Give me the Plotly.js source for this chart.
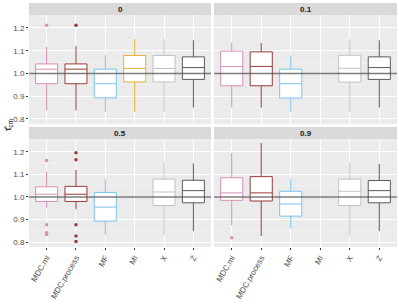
<!DOCTYPE html>
<html><head><meta charset="utf-8">
<script src="https://cdn.plot.ly/plotly-3.0.1.min.js"></script>
<style>html,body{margin:0;padding:0;background:#fff}#c{width:399px;height:308px}</style>
</head><body><div id="c"></div>
<script>
const methods = ['MDC.mi','MDC.process','MF','MI','X','Z'];
const panels = ['0','0.1','0.5','0.9'];
const colors = ['#d68fb8','#9a3a3a','#7cc4ee','#eab03a','#c2c2c2','#5a5a5a'];
// per panel, per method
const lowerFence = [
  [0.838,0.838,0.831,0.831,0.831,0.850],
  [0.850,0.850,0.831,null,0.831,0.850],
  [0.952,0.945,0.833,null,0.830,0.848],
  [0.874,0.827,0.860,null,0.830,0.848]
];
const q1 = [
  [0.955,0.955,0.893,0.963,0.963,0.974],
  [0.946,0.946,0.892,null,0.962,0.974],
  [0.980,0.980,0.893,null,0.962,0.974],
  [0.985,0.982,0.915,null,0.962,0.974]
];
const median = [
  [1.019,1.019,0.955,1.022,1.022,1.026],
  [1.031,1.031,0.955,null,1.023,1.026],
  [1.012,1.012,0.955,null,1.022,1.028],
  [1.018,1.018,0.969,null,1.025,1.028]
];
const q3 = [
  [1.042,1.042,1.019,1.079,1.079,1.073],
  [1.098,1.095,1.019,null,1.080,1.073],
  [1.045,1.047,1.020,null,1.079,1.074],
  [1.085,1.090,1.025,null,1.079,1.073]
];
const upperFence = [
  [1.117,1.120,1.080,1.152,1.152,1.146],
  [1.134,1.134,1.080,null,1.152,1.146],
  [1.112,1.120,1.079,null,1.155,1.149],
  [1.196,1.240,1.079,null,1.152,1.147]
];
const outPanel  = [0,0,2,2,2,2,2,2,2,2,2,3];
const outMethod = [0,1,0,0,0,0,1,1,1,1,1,0];
const outValue  = [1.212,1.212,1.162,0.877,0.841,0.833,1.196,1.165,0.877,0.827,0.802,0.819];

const W=399,H=308;
const xdom = [[29/W,211/W],[214/W,397/W],[29/W,211/W],[214/W,397/W]];
const ydom = [[1-124/H,1-15/H],[1-124/H,1-15/H],[1-247/H,1-139/H],[1-247/H,1-139/H]];
const strips = [[3,15],[3,15],[127,139],[127,139]];

const traces=[];
const layout={
  width:W,height:H,margin:{l:0,r:0,t:0,b:0},
  paper_bgcolor:'#fff',plot_bgcolor:'#ebebeb',showlegend:false,
  font:{family:'Liberation Sans, Arial, sans-serif',size:8,color:'#4d4d4d'},
  shapes:[],annotations:[]
};
for(let p=0;p<4;p++){
  const sx = p===0?'':String(p+1);
  const xa='x'+sx, ya='y'+sx;
  for(let m=0;m<methods.length;m++){
    if(median[p][m]===null) continue;
    traces.push({type:'box',xaxis:xa,yaxis:ya,x:[methods[m]],
      q1:[q1[p][m]],median:[median[p][m]],q3:[q3[p][m]],
      lowerfence:[lowerFence[p][m]],upperfence:[upperFence[p][m]],
      width:0.75,fillcolor:'#ffffff',line:{color:colors[m],width:1},
      boxpoints:false,whiskerwidth:0,hoverinfo:'skip'});
  }
  const ox=[],oy=[],oc=[];
  for(let i=0;i<outValue.length;i++){
    if(outPanel[i]!==p) continue;
    ox.push(methods[outMethod[i]]);oy.push(outValue[i]);oc.push(colors[outMethod[i]]);
  }
  if(ox.length) traces.push({type:'scatter',mode:'markers',xaxis:xa,yaxis:ya,x:ox,y:oy,
    marker:{color:oc,size:3.5,symbol:'circle'},hoverinfo:'skip'});
  const bottom = p>=2, left = p%2===0;
  layout['xaxis'+sx]={domain:xdom[p],anchor:ya,type:'category',categoryorder:'array',
    categoryarray:methods,range:[-0.6,5.6],showgrid:true,gridcolor:'#ffffff',gridwidth:1,
    zeroline:false,showline:false,ticks:bottom?'outside':'',ticklen:2,tickcolor:'#333',
    showticklabels:bottom,tickangle:-60,tickfont:{size:8,color:'#4d4d4d'},fixedrange:true};
  layout['yaxis'+sx]={domain:ydom[p],anchor:xa,range:[0.778,1.257],tickvals:[0.8,0.9,1.0,1.1,1.2],
    ticktext:['0.8','0.9','1.0','1.1','1.2'],showgrid:true,gridcolor:'#ffffff',gridwidth:1,
    minor:{tickvals:[0.85,0.95,1.05,1.15,1.25],showgrid:true,gridcolor:'#f6f6f6',gridwidth:0.5,ticks:''},
    zeroline:false,showline:false,ticks:left?'outside':'',ticklen:2,tickcolor:'#333',
    showticklabels:left,tickfont:{size:8,color:'#4d4d4d'},fixedrange:true};
  layout.shapes.push({type:'line',xref:xa+' domain',yref:ya,x0:0,x1:1,y0:1,y1:1,
    line:{color:'rgba(80,80,80,0.75)',width:1.6},layer:'above'});
  layout.shapes.push({type:'rect',xref:'paper',yref:'paper',x0:xdom[p][0],x1:xdom[p][1],
    y0:1-strips[p][1]/H,y1:1-strips[p][0]/H,fillcolor:'#d9d9d9',line:{width:0},layer:'below'});
  layout.annotations.push({xref:'paper',yref:'paper',x:(xdom[p][0]+xdom[p][1])/2,
    y:1-(strips[p][0]+strips[p][1])/2/H,text:'<b>'+panels[p]+'</b>',showarrow:false,
    xanchor:'center',yanchor:'middle',font:{size:8,color:'#1a1a1a'}});
}
layout.annotations.push({xref:'paper',yref:'paper',x:8/W,y:1-125/H,text:'τ̂<sub>cm</sub>',
  showarrow:false,textangle:-90,xanchor:'center',yanchor:'middle',font:{size:9,color:'#000'}});
Plotly.newPlot('c',traces,layout,{staticPlot:true,displayModeBar:false});
</script></body></html>
